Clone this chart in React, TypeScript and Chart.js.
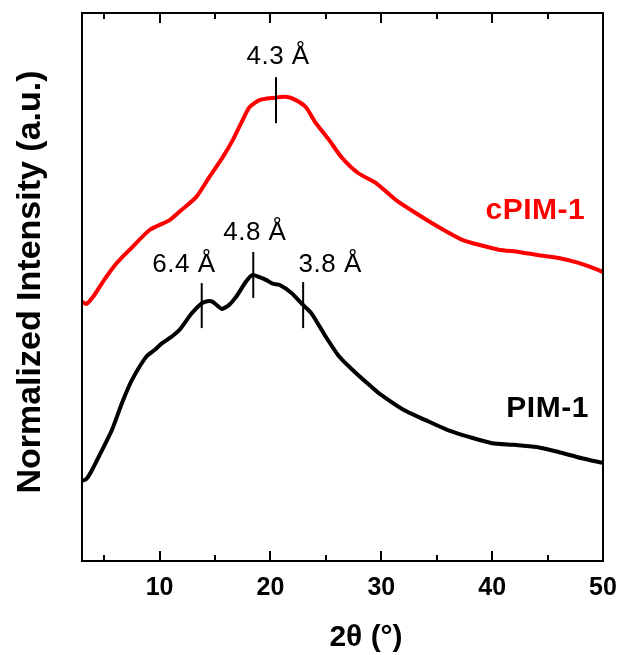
import React, { useEffect, useRef } from "react";
import { Chart, registerables } from "chart.js";

Chart.register(...registerables);

// PIM-1 (black) diffraction pattern, 2θ in degrees vs normalized intensity
const pimX = [3.0, 3.4, 3.8, 4.6, 5.7, 6.6, 7.5, 8.8, 9.6, 10.2, 11.0, 11.8, 12.9, 13.8, 14.3, 14.8, 15.2, 15.6, 16.2, 16.9, 17.8, 18.4, 19.0, 19.6, 20.2, 20.8, 21.9, 22.8, 23.7, 25.0, 26.2, 27.7, 29.1, 29.8, 32, 34, 36, 38, 40, 42, 44, 46, 48, 50];
const pimY = [14.6, 15.0, 16.2, 19.4, 23.9, 28.8, 33.0, 37.3, 38.6, 39.7, 40.8, 42.2, 45.2, 47.0, 47.4, 47.3, 46.6, 46.0, 46.6, 48.2, 51.0, 52.2, 51.8, 51.3, 50.6, 50.4, 48.9, 47.0, 45.2, 40.9, 37.3, 34.3, 31.8, 30.6, 27.6, 25.7, 23.9, 22.6, 21.5, 21.2, 20.8, 19.9, 18.8, 17.9];

// cPIM-1 (red)
const cpimX = [3.0, 3.4, 4.1, 5.0, 5.9, 6.8, 7.3, 9.1, 10.9, 12.0, 13.3, 14.5, 15.7, 16.6, 17.5, 18.1, 19.0, 20.2, 21.4, 22.3, 23.2, 24.1, 25.3, 26.4, 27.9, 29.5, 31.3, 33.1, 35.2, 37.3, 38.8, 40.6, 42.4, 44.2, 46.0, 47.8, 49.6, 50];
const cpimY = [47.3, 46.9, 48.5, 51.3, 53.8, 55.8, 56.8, 60.4, 62.2, 64.1, 66.4, 70.1, 73.7, 76.8, 80.5, 82.8, 84.1, 84.5, 84.7, 84.1, 82.8, 79.9, 76.8, 73.7, 70.8, 69.0, 65.9, 63.5, 60.9, 58.6, 57.7, 56.8, 56.4, 55.8, 55.3, 54.4, 53.1, 52.7];

// peak markers
const peakLabels = ["6.4 Å", "4.8 Å", "3.8 Å", "4.3 Å"];
const peakX = [13.8, 18.45, 22.95, 20.5];
const peakYTop = [50.7, 56.4, 50.9, 88.3];
const peakYBottom = [42.5, 48.0, 42.5, 79.9];
const peakLabelX = [12.1, 18.5, 25.3, 20.6];
const peakLabelY = [54.0, 59.9, 54.0, 92.0];

// series labels
const seriesNames = ["cPIM-1", "PIM-1"];
const seriesColors = ["#ff0000", "#000000"];
const seriesLabelX = [43.9, 45.0];
const seriesLabelY = [63.9, 27.8];

const xMin = 3;
const xMax = 50;
const majorTicks = [10, 20, 30, 40, 50];
const minorTicks = [5, 15, 25, 35, 45];

const xTitle = "2θ (°)";
const yTitle = "Normalized Intensity (a.u.)";

const FONT = "'Liberation Sans', Arial, sans-serif";

const setSpacing = (ctx: any, v: string) => {
  try { ctx.letterSpacing = v; } catch (e) {}
};

const decorPlugin = {
  id: "decor",
  afterDatasetsDraw(chart: any) {
    const { ctx, chartArea, scales } = chart;
    const xs = scales.x;
    const ys = scales.y;
    const { left, right, top, bottom } = chartArea;
    ctx.save();
    // frame
    ctx.strokeStyle = "#000";
    ctx.lineWidth = 2;
    ctx.strokeRect(left, top, right - left, bottom - top);
    // inward ticks
    const drawTick = (v: number, len: number) => {
      const px = Math.round(xs.getPixelForValue(v));
      ctx.beginPath();
      ctx.moveTo(px, bottom);
      ctx.lineTo(px, bottom - len);
      ctx.moveTo(px, top);
      ctx.lineTo(px, top + len);
      ctx.stroke();
    };
    majorTicks.forEach((v) => drawTick(v, 10));
    minorTicks.forEach((v) => drawTick(v, 6));
    // tick labels
    ctx.fillStyle = "#000";
    ctx.textAlign = "center";
    ctx.textBaseline = "alphabetic";
    ctx.font = `bold 25px ${FONT}`;
    majorTicks.forEach((v) => {
      ctx.fillText(String(v), xs.getPixelForValue(v), 595);
    });
    // peak markers
    ctx.lineWidth = 2;
    peakX.forEach((v, i) => {
      const px = xs.getPixelForValue(v);
      ctx.beginPath();
      ctx.moveTo(px, ys.getPixelForValue(peakYTop[i]));
      ctx.lineTo(px, ys.getPixelForValue(peakYBottom[i]));
      ctx.stroke();
    });
    ctx.font = `26px ${FONT}`;
    ctx.textBaseline = "middle";
    setSpacing(ctx, "0.5px");
    peakLabels.forEach((t, i) => {
      ctx.fillText(t, xs.getPixelForValue(peakLabelX[i]) + 1, ys.getPixelForValue(peakLabelY[i]));
    });
    // series labels
    ctx.font = `bold 30px ${FONT}`;
    seriesNames.forEach((t, i) => {
      ctx.fillStyle = seriesColors[i];
      ctx.fillText(t, xs.getPixelForValue(seriesLabelX[i]), ys.getPixelForValue(seriesLabelY[i]));
    });
    setSpacing(ctx, "0px");
    // axis titles
    ctx.fillStyle = "#000";
    ctx.font = `bold 30px ${FONT}`;
    ctx.textBaseline = "alphabetic";
    ctx.fillText(xTitle, 366, 646);
    ctx.save();
    ctx.translate(40, 282);
    ctx.rotate(-Math.PI / 2);
    ctx.font = `bold 34px ${FONT}`;
    ctx.fillText(yTitle, 0, 0);
    ctx.restore();
    ctx.restore();
  },
};

export default function App() {
  const canvasRef = useRef<HTMLCanvasElement | null>(null);
  useEffect(() => {
    if (!canvasRef.current) return;
    const chart = new Chart(canvasRef.current, {
      type: "line",
      data: {
        datasets: [
          {
            label: "cPIM-1",
            data: cpimX.map((x, i) => ({ x, y: cpimY[i] })),
            borderColor: "#ff0000",
            borderWidth: 4,
            pointRadius: 0,
            tension: 0.2,
            fill: false,
          },
          {
            label: "PIM-1",
            data: pimX.map((x, i) => ({ x, y: pimY[i] })),
            borderColor: "#000000",
            borderWidth: 4,
            pointRadius: 0,
            tension: 0.2,
            fill: false,
          },
        ],
      },
      options: {
        animation: false,
        responsive: false,
        maintainAspectRatio: false,
        layout: { padding: { left: 82, top: 13, right: 17, bottom: 94 } },
        plugins: { legend: { display: false }, tooltip: { enabled: false } },
        scales: {
          x: { type: "linear", display: false, min: xMin, max: xMax },
          y: { display: false, min: 0, max: 100 },
        },
      },
      plugins: [decorPlugin],
    });
    return () => chart.destroy();
  }, []);
  return (
    <div style={{ position: "absolute", left: 0, top: 0, width: 620, height: 655, background: "#fff" }}>
      <canvas ref={canvasRef} width={620} height={655} style={{ display: "block", width: 620, height: 655 }} />
    </div>
  );
}
